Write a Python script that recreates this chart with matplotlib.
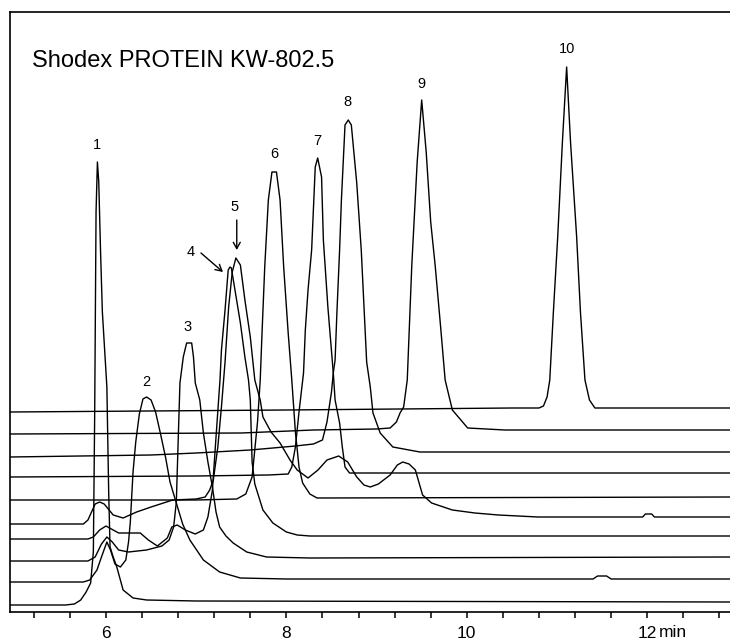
import matplotlib
matplotlib.use("Agg")
import matplotlib.pyplot as plt

plt.rcParams['font.family'] = ['Liberation Sans', 'DejaVu Sans']

# ---- data (time in min, signal in arbitrary units incl. vertical offset) ----
p1_t = [4.936, 5.55, 5.65, 5.72, 5.78, 5.83, 5.86, 5.875, 5.89, 5.905, 5.92, 5.94, 5.96, 5.99, 6.01, 6.03, 6.045, 6.08, 6.12, 6.19, 6.30, 6.45, 7.0, 12.918]
p1_y = [7, 7, 8, 12, 20, 29, 60, 200, 400, 450, 430, 360, 300, 255, 225, 120, 65, 55, 45, 22, 14, 12, 11, 10]

p2_t = [4.936, 5.75, 5.82, 5.90, 5.95, 6.01, 6.05, 6.10, 6.16, 6.22, 6.25, 6.27, 6.30, 6.33, 6.37, 6.41, 6.45, 6.50, 6.55, 6.60, 6.66, 6.71, 6.77, 6.85, 6.93, 7.08, 7.26, 7.49, 8.0, 11.40, 11.45, 11.55, 11.60, 12.918]
p2_y = [30, 30, 32, 42, 55, 70, 62, 48, 45, 52, 70, 90, 140, 170, 198, 213, 215, 212, 200, 180, 155, 130, 112, 88, 72, 52, 40, 34, 33, 33, 36, 36, 33, 33]

p3_t = [4.936, 5.80, 5.88, 5.95, 6.01, 6.07, 6.14, 6.25, 6.45, 6.62, 6.70, 6.75, 6.78, 6.80, 6.82, 6.857, 6.894, 6.95, 6.97, 6.99, 7.04, 7.08, 7.13, 7.18, 7.22, 7.26, 7.33, 7.41, 7.56, 7.78, 8.26, 12.918]
p3_y = [51, 51, 55, 68, 75, 70, 62, 60, 62, 66, 72, 85, 110, 170, 229, 255, 269, 269, 255, 229, 212, 179, 150, 125, 100, 85, 76, 69, 60, 55, 54, 55]

p4_t = [4.936, 5.80, 5.86, 5.93, 6.00, 6.06, 6.14, 6.38, 6.47, 6.57, 6.68, 6.73, 6.79, 6.88, 6.99, 7.08, 7.13, 7.18, 7.22, 7.264, 7.28, 7.32, 7.355, 7.375, 7.39, 7.43, 7.49, 7.54, 7.58, 7.60, 7.62, 7.65, 7.74, 7.85, 8.0, 8.12, 8.26, 12.918]
p4_y = [73, 73, 75, 82, 86, 83, 79, 79, 72, 66, 74, 85, 87, 82, 78, 82, 95, 122, 175, 232, 262, 302, 342, 345, 344, 322, 289, 255, 232, 212, 150, 128, 102, 89, 80, 77, 76, 76]

p5_t = [4.936, 5.75, 5.80, 5.84, 5.88, 5.93, 5.98, 6.08, 6.19, 6.34, 6.50, 6.74, 7.0, 7.10, 7.15, 7.19, 7.24, 7.28, 7.32, 7.36, 7.40, 7.44, 7.49, 7.54, 7.60, 7.65, 7.71, 7.74, 7.83, 7.93, 8.04, 8.12, 8.24, 8.35, 8.45, 8.58, 8.68, 8.78, 8.86, 8.93, 9.02, 9.15, 9.23, 9.29, 9.36, 9.43, 9.51, 9.61, 9.84, 10.09, 10.35, 10.79, 11.95, 11.98, 12.05, 12.08, 12.918]
p5_y = [88, 88, 92, 100, 108, 110, 108, 97, 94, 100, 105, 112, 113, 115, 122, 132, 165, 205, 250, 305, 340, 354, 347, 312, 275, 232, 212, 195, 180, 169, 152, 142, 134, 142, 152, 156, 150, 135, 127, 125, 128, 137, 147, 150, 148, 142, 117, 109, 102, 99, 97, 95, 95, 98, 98, 95, 95]

p6_t = [4.936, 7.0, 7.45, 7.55, 7.62, 7.68, 7.71, 7.73, 7.76, 7.80, 7.84, 7.89, 7.93, 7.97, 8.02, 8.06, 8.10, 8.14, 8.18, 8.26, 8.34, 12.918]
p6_y = [112, 112, 113, 118, 135, 190, 232, 279, 345, 412, 440, 440, 412, 345, 279, 232, 180, 145, 129, 118, 114, 115]

p7_t = [4.936, 7.0, 7.8, 8.02, 8.06, 8.10, 8.14, 8.19, 8.21, 8.24, 8.28, 8.32, 8.347, 8.39, 8.41, 8.46, 8.52, 8.54, 8.59, 8.62, 8.65, 8.70, 12.918]
p7_y = [135, 136, 137, 138, 145, 165, 200, 239, 282, 322, 362, 445, 454, 435, 372, 305, 239, 212, 189, 165, 145, 139, 139]

p8_t = [4.936, 6.5, 7.0, 7.6, 8.1, 8.3, 8.40, 8.45, 8.50, 8.52, 8.54, 8.56, 8.59, 8.61, 8.65, 8.686, 8.72, 8.78, 8.83, 8.89, 8.93, 8.96, 9.04, 9.18, 9.48, 12.918]
p8_y = [155, 157, 159, 162, 166, 168, 172, 190, 220, 239, 252, 299, 362, 412, 487, 492, 487, 429, 362, 250, 225, 199, 179, 165, 160, 160]

p9_t = [4.936, 7.5, 8.3, 9.0, 9.15, 9.22, 9.26, 9.30, 9.34, 9.39, 9.45, 9.50, 9.55, 9.60, 9.65, 9.71, 9.76, 9.84, 10.01, 10.42, 12.918]
p9_y = [178, 179, 182, 183, 184, 190, 199, 205, 232, 346, 450, 512, 460, 390, 346, 285, 232, 202, 184, 182, 182]

p10_t = [4.936, 8.0, 10.5, 10.80, 10.85, 10.89, 10.92, 10.96, 11.008, 11.06, 11.107, 11.15, 11.218, 11.26, 11.31, 11.36, 11.42, 12.918]
p10_y = [200, 202, 204, 204, 206, 215, 232, 300, 375, 470, 545, 470, 375, 300, 232, 212, 204, 204]

peak_labels = ["1", "2", "3", "4", "5", "6", "7", "8", "9", "10"]
peak_label_t = [5.895, 6.443, 6.909, 6.942, 7.43, 7.863, 8.339, 8.677, 9.492, 11.11]
peak_label_y = [467, 230, 285, 360, 405, 458, 471, 510, 528, 563]

major_ticks = [6, 8, 10, 12]
major_labels = ["6", "8", "10", "12"]
minor_ticks = [5.2, 5.6, 6.4, 6.8, 7.2, 7.6, 8.4, 8.8, 9.2, 9.6, 10.4, 10.8, 11.2, 11.6, 12.4, 12.8]
title = "Shodex PROTEIN KW-802.5"

# ---- figure ----
fig = plt.figure(figsize=(7.30, 6.41), dpi=100)
ax = fig.add_axes([10/730, 29/641, 720/730, 600/641])
ax.set_xlim(4.936, 12.918)
ax.set_ylim(0, 600)

traces = [(p1_t, p1_y), (p2_t, p2_y), (p3_t, p3_y), (p4_t, p4_y), (p5_t, p5_y),
          (p6_t, p6_y), (p7_t, p7_y), (p8_t, p8_y), (p9_t, p9_y), (p10_t, p10_y)]
for t, y in traces:
    ax.plot(t, y, color='black', lw=1.0, solid_joinstyle='round')

for lab, t, y in zip(peak_labels, peak_label_t, peak_label_y):
    ax.text(t, y, lab, ha='center', va='center', fontsize=10.5)

arrow_kw = dict(arrowstyle='->,head_length=0.45,head_width=0.25', lw=1.0, color='black',
                shrinkA=0, shrinkB=0)
ax.annotate('', xy=(7.45, 362), xytext=(7.45, 392), arrowprops=arrow_kw)
ax.annotate('', xy=(7.297, 340), xytext=(7.053, 359), arrowprops=arrow_kw)

ax.text(0.0306, 545, title, transform=ax.get_yaxis_transform(), ha='left',
        va='baseline', fontsize=17)

for s in ['left', 'top', 'bottom']:
    ax.spines[s].set_linewidth(1.2)
ax.spines['right'].set_visible(False)
ax.set_yticks([])
ax.set_xticks(major_ticks)
ax.set_xticklabels(major_labels, fontsize=12.5)
ax.set_xticks(minor_ticks, minor=True)
ax.tick_params(axis='x', which='both', direction='out', length=4, width=1.1, pad=6)

ax.annotate('min', xy=(12.13, 0), xycoords=('data', 'axes fraction'),
            xytext=(0, -9.6), textcoords='offset points', ha='left', va='top',
            fontsize=12.5)

fig.savefig('out.png', dpi=100)
